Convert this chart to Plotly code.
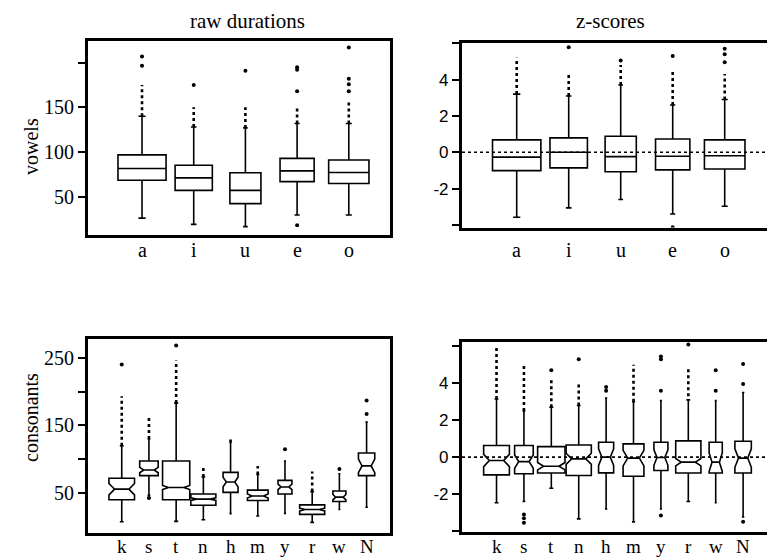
import plotly.graph_objects as go

# ---------------- data ----------------
vowels = ["a", "i", "u", "e", "o"]
consonants = ["k", "s", "t", "n", "h", "m", "y", "r", "w", "N"]

# raw durations, vowels
raw_v_q1 = [68.4, 57.1, 42.3, 66.9, 64.8]
raw_v_med = [81.6, 71.1, 57.1, 78.9, 77.1]
raw_v_q3 = [96.8, 85.2, 76.8, 92.9, 91.1]
raw_v_lo = [26, 19, 16.5, 29.6, 29.6]
raw_v_hi = [140, 128, 127, 132, 132]
raw_v_notch = [1.5, 1.5, 1.5, 1.5, 1.5]
raw_v_dense = [[140, 175], [128, 150], [127, 150], [132, 152], [132, 156]]
raw_v_out = [[196.5, 207], [175], [191], [18, 168, 192, 195], [168, 176, 182, 217]]

# z-scores, vowels
z_v_q1 = [-1.01, -0.86, -1.07, -0.97, -0.92]
z_v_med = [-0.27, 0.0, -0.24, -0.22, -0.19]
z_v_q3 = [0.68, 0.79, 0.88, 0.73, 0.68]
z_v_lo = [-3.58, -3.06, -2.6, -3.4, -2.97]
z_v_hi = [3.2, 3.1, 3.7, 2.6, 2.9]
z_v_notch = [0.08, 0.08, 0.12, 0.1, 0.08]
z_v_dense = [[3.2, 5.2], [3.1, 4.4], [3.7, 4.8], [2.6, 4.5], [2.9, 4.3]]
z_v_out = [[], [5.78], [5.05], [-4.13, 5.3], [4.95, 5.4, 5.7]]

# raw durations, consonants
raw_c_q1 = [40.4, 76.1, 40.4, 32.3, 51.4, 39.4, 49, 19, 38, 76.1]
raw_c_med = [56.1, 84.3, 58.6, 41.4, 66.6, 46.1, 59.4, 26.1, 44.3, 90.4]
raw_c_q3 = [72.3, 97.6, 97.6, 49, 80.9, 54.7, 69, 32.9, 53.3, 109.4]
raw_c_lo = [8, 47, 8.6, 10.9, 20, 16.6, 20.4, 7.1, 26.1, 29.4]
raw_c_hi = [120, 130, 183, 74, 125, 77.7, 97.6, 52.5, 78.6, 155]
raw_c_notch = [8.4, 4, 3, 2, 7, 3, 4, 2, 4, 10]
raw_c_dense = [[120, 193], [130, 162], [183, 246], [74, 90.4], [125, 133],
               [77.7, 90.4], None, [52.5, 82.3], None, None]
raw_c_out = [[240], [43], [268], [], [], [], [115], [], [85.7], [166.8, 187]]

# z-scores, consonants
z_c_q1 = [-0.96, -0.9, -0.86, -0.99, -0.85, -1.03, -0.72, -0.86, -0.86, -0.86]
z_c_med = [-0.18, -0.24, -0.49, -0.09, 0.0, -0.05, -0.02, -0.27, -0.27, -0.05]
z_c_q3 = [0.63, 0.63, 0.57, 0.66, 0.81, 0.72, 0.81, 0.88, 0.81, 0.86]
z_c_lo = [-2.47, -2.4, -1.68, -3.34, -2.8, -3.5, -2.8, -2.4, -2.47, -3.24]
z_c_hi = [3.15, 2.5, 2.7, 2.8, 3.2, 3.0, 3.06, 3.1, 3.06, 3.5]
z_c_notch = [0.33, 0.36, 0.2, 0.3, 0.45, 0.42, 0.42, 0.2, 0.5, 0.5]
z_c_dense = [[3.15, 6.0], [2.5, 5.1], [2.7, 4.2], [2.8, 4.1], None,
             [3.0, 5.0], None, [3.3, 4.9], None, None]
z_c_out = [[], [-3.1, -3.3, -3.55], [4.7], [5.3], [3.6, 3.8], [],
           [-3.16, 3.6, 5.3, 5.45], [6.1], [3.6, 4.7], [-3.5, 3.96, 5.04]]

# ---------------- styling ----------------
vowel_box_width = [0.93, 0.72, 0.6, 0.66, 0.78]
cons_box_width = [0.94, 0.68, 1.0, 0.92, 0.55, 0.76, 0.51, 0.92, 0.48, 0.6]

SERIF = "Liberation Serif, Times New Roman, serif"
SANS = "Liberation Sans, Arial, sans-serif"
OFF = 8                      # page body margin around the figure
W, H = 775 - OFF, 557 - OFF  # figure size so it fits the window


def xp(s):
    """screen x pixel -> paper fraction"""
    return (s - OFF) / W


def yp(s):
    """screen y pixel -> paper fraction"""
    return 1 - (s - OFF) / H


def x_dom(a, b):
    return [xp(a), xp(b)]


def y_dom(top, bottom):
    return [yp(bottom), yp(top)]


fig = go.Figure()


def add_panel(xa, ya, cats, q1, med, q3, lo, hi, notch, dense, outs, widths,
              notched, label_y, label_size):
    xref = "x" + ("" if xa == 1 else str(xa))
    yref = "y" + ("" if ya == 1 else str(ya))
    for i in range(len(cats)):
        extra = dict(notched=True, notchspan=[notch[i]], notchwidth=0.22) \
            if notched else dict(notched=False)
        fig.add_trace(go.Box(
            x=[i], q1=[q1[i]], median=[med[i]], q3=[q3[i]],
            lowerfence=[lo[i]], upperfence=[hi[i]],
            width=widths[i], whiskerwidth=0.15,
            fillcolor="white", line=dict(color="black", width=1.6),
            boxpoints=False, showlegend=False, hoverinfo="skip",
            xaxis=xref, yaxis=yref, **extra,
        ))
    for i in range(len(cats)):
        if dense[i] is not None:
            fig.add_trace(go.Scatter(
                x=[i, i], y=dense[i], mode="lines",
                line=dict(color="black", width=2.6, dash="dot"),
                showlegend=False, hoverinfo="skip", xaxis=xref, yaxis=yref,
            ))
    ox, oy = [], []
    for i in range(len(cats)):
        for v in outs[i]:
            ox.append(i)
            oy.append(v)
    fig.add_trace(go.Scatter(
        x=ox, y=oy, mode="markers",
        marker=dict(color="black", size=4),
        showlegend=False, hoverinfo="skip", xaxis=xref, yaxis=yref,
    ))
    # category labels under the frame, placed on the category axis
    for i, c in enumerate(cats):
        fig.add_annotation(x=i, xref=xref, y=yp(label_y), yref="paper",
                           text=c, showarrow=False, xanchor="center",
                           yanchor="middle", borderpad=0,
                           font=dict(family=SERIF, size=label_size,
                                     color="black"))


add_panel(1, 1, vowels, raw_v_q1, raw_v_med, raw_v_q3, raw_v_lo, raw_v_hi,
          raw_v_notch, raw_v_dense, raw_v_out, vowel_box_width, False, 250, 20)
add_panel(2, 2, vowels, z_v_q1, z_v_med, z_v_q3, z_v_lo, z_v_hi,
          z_v_notch, z_v_dense, z_v_out, vowel_box_width, False, 250, 20)
add_panel(3, 3, consonants, raw_c_q1, raw_c_med, raw_c_q3, raw_c_lo, raw_c_hi,
          raw_c_notch, raw_c_dense, raw_c_out, cons_box_width, True, 546, 19)
add_panel(4, 4, consonants, z_c_q1, z_c_med, z_c_q3, z_c_lo, z_c_hi,
          z_c_notch, z_c_dense, z_c_out, cons_box_width, True, 546, 19)

frame = dict(showline=True, linecolor="black", linewidth=3.2, mirror=True,
             showgrid=False, zeroline=False)


def xaxis(dom, rng, cats, anchor):
    return dict(domain=dom, range=rng, tickvals=list(range(len(cats))),
                ticktext=cats, ticks="", anchor=anchor, showticklabels=False,
                **frame)


def yaxis(dom, rng, vals, text, font, size, anchor):
    return dict(domain=dom, range=rng, tickvals=vals, ticktext=text,
                ticks="outside", ticklen=7, tickwidth=2, tickcolor="black",
                anchor=anchor,
                tickfont=dict(family=font, size=size, color="black"), **frame)


fig.update_layout(
    width=W, height=H,
    margin=dict(l=0, r=0, t=0, b=0),
    paper_bgcolor="white", plot_bgcolor="white",
    boxmode="overlay",
    xaxis=xaxis(x_dom(88, 390), [-1.045, 4.797], vowels, "y"),
    yaxis=yaxis(y_dom(41, 235.3), [6.8, 224.3], [50, 100, 150, 200],
                ["50", "100", "150", ""], SERIF, 20, "x"),
    xaxis2=xaxis(x_dom(462, 769), [-1.052, 4.852], vowels, "y2"),
    yaxis2=yaxis(y_dom(42.5, 227.5), [-4.14, 6.04], [-4, -2, 0, 2, 4, 6],
                 ["", "-2", "0", "2", "4", ""], SANS, 17, "x2"),
    xaxis3=xaxis(x_dom(88, 390), [-1.24, 9.86], consonants, "y3"),
    yaxis3=yaxis(y_dom(339.3, 532.5), [-7.8, 277.1], [50, 100, 150, 200, 250],
                 ["50", "", "150", "", "250"], SERIF, 20, "x3"),
    xaxis4=xaxis(x_dom(462, 769), [-1.26, 9.945], consonants, "y4"),
    yaxis4=yaxis(y_dom(341.7, 532), [-4.05, 6.25], [-4, -2, 0, 2, 4, 6],
                 ["", "-2", "0", "2", "4", ""], SANS, 17, "x4"),
)

# dotted zero reference lines in the z-score panels
for xr, yr in (("x2", "y2"), ("x4", "y4")):
    fig.add_shape(type="line", xref=xr + " domain", yref=yr,
                  x0=0, x1=1, y0=0, y1=0,
                  line=dict(color="black", width=1.6, dash="dot"))

# panel titles, anchored at the top edge of the figure
for text, x in (("raw durations", 247), ("z-scores", 610)):
    fig.add_annotation(xref="paper", yref="paper", x=xp(x), y=1,
                       text=text, showarrow=False, xanchor="center",
                       yanchor="top", borderpad=0,
                       font=dict(family=SERIF, size=21, color="black"))

# row labels
for text, y in (("vowels", 147), ("consonants", 418)):
    fig.add_annotation(xref="paper", yref="paper", x=xp(31), y=yp(y),
                       text=text, showarrow=False, textangle=-90,
                       xanchor="center", yanchor="middle",
                       font=dict(family=SERIF, size=20, color="black"))

fig.write_html("out.html")
